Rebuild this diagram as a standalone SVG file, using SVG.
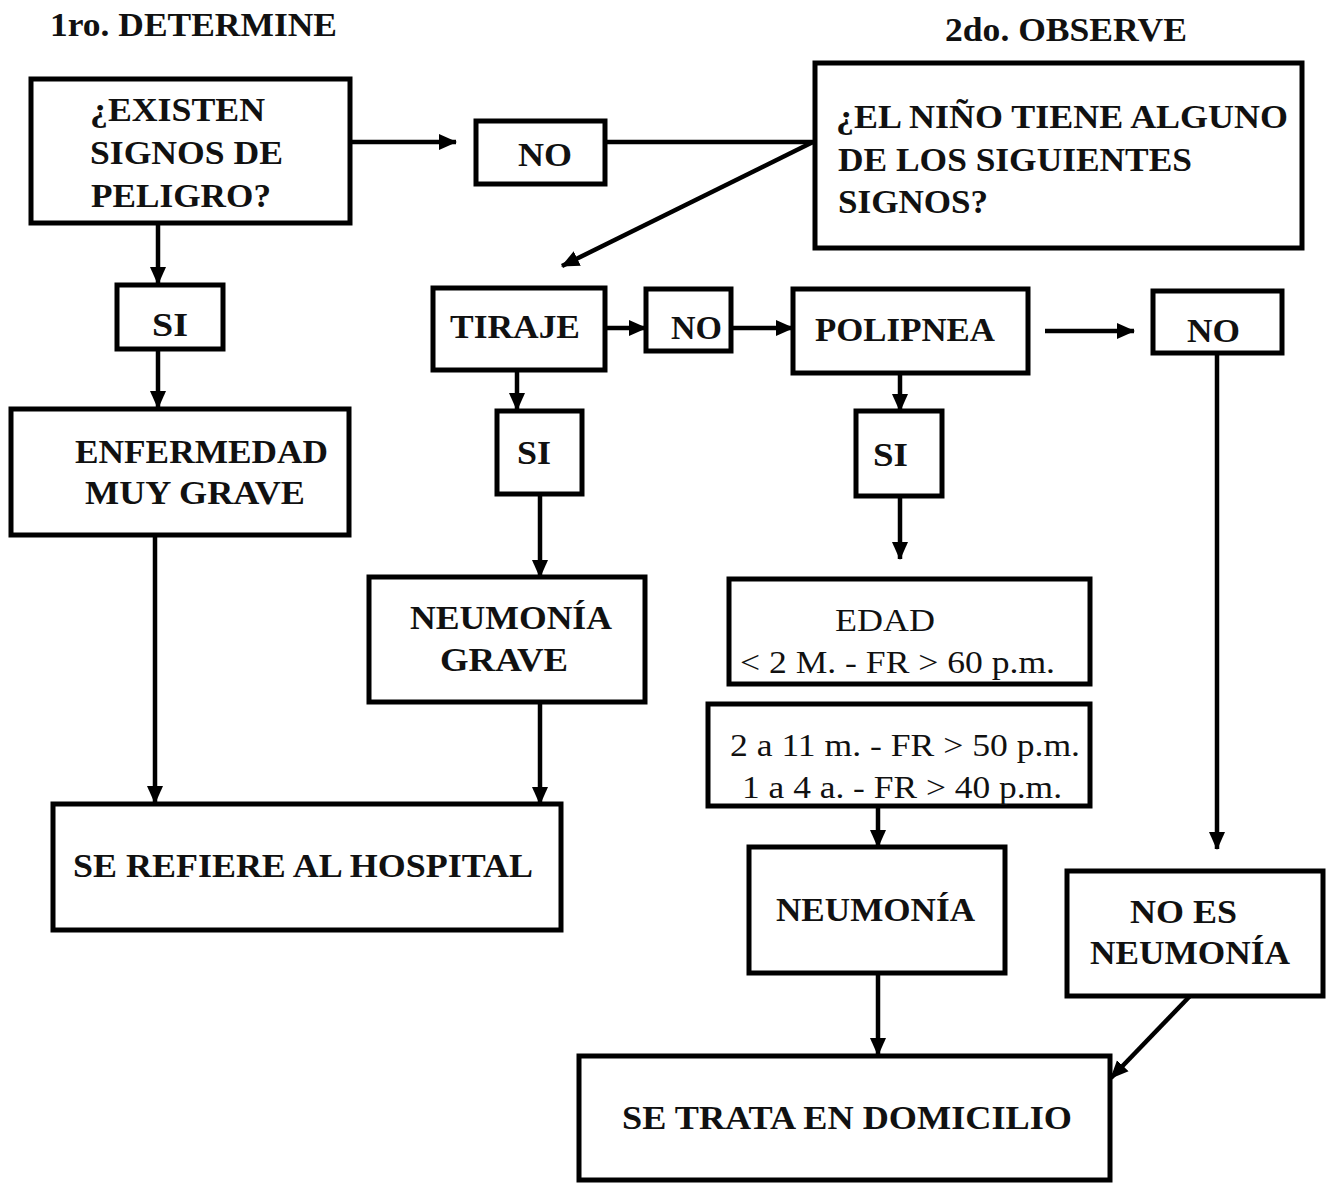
<svg xmlns="http://www.w3.org/2000/svg" width="1328" height="1185" viewBox="0 0 1328 1185">
<style>
.box{fill:#fff;stroke:#000;stroke-width:5}
.t{font-family:"Liberation Serif","Times New Roman",serif;font-weight:bold;font-size:34px;fill:#111}
.n{font-family:"Liberation Serif","Times New Roman",serif;font-weight:normal;font-size:32px;fill:#111}
.c{stroke:#000;stroke-width:4.5;fill:none}
</style>
<defs>
<marker id="ah" markerUnits="userSpaceOnUse" markerWidth="20" markerHeight="18" refX="17" refY="9" orient="auto">
<path d="M0,1 L18,9 L0,17 Z" fill="#000"/>
</marker>
</defs>
<rect width="1328" height="1185" fill="#fff"/>
<text class="t" x="50" y="36" font-size="32" textLength="287" lengthAdjust="spacingAndGlyphs">1ro. DETERMINE</text>
<text class="t" x="945" y="41" font-size="32" textLength="242" lengthAdjust="spacingAndGlyphs">2do. OBSERVE</text>

<g id="connectors">
<line class="c" x1="352" y1="142" x2="456" y2="142" marker-end="url(#ah)"/>
<line class="c" x1="605" y1="142" x2="813" y2="142"/>
<line class="c" x1="813" y1="142" x2="562" y2="266" marker-end="url(#ah)"/>
<line class="c" x1="158" y1="223" x2="158" y2="284" marker-end="url(#ah)"/>
<line class="c" x1="158" y1="349" x2="158" y2="408" marker-end="url(#ah)"/>
<line class="c" x1="155" y1="535" x2="155" y2="803" marker-end="url(#ah)"/>
<line class="c" x1="605" y1="328" x2="646" y2="328" marker-end="url(#ah)"/>
<line class="c" x1="731" y1="328" x2="793" y2="328" marker-end="url(#ah)"/>
<line class="c" x1="1045" y1="331" x2="1134" y2="331" marker-end="url(#ah)"/>
<line class="c" x1="1217" y1="353" x2="1217" y2="849" marker-end="url(#ah)"/>
<line class="c" x1="517" y1="370" x2="517" y2="410" marker-end="url(#ah)"/>
<line class="c" x1="540" y1="494" x2="540" y2="577" marker-end="url(#ah)"/>
<line class="c" x1="540" y1="702" x2="540" y2="804" marker-end="url(#ah)"/>
<line class="c" x1="900" y1="373" x2="900" y2="411" marker-end="url(#ah)"/>
<line class="c" x1="900" y1="496" x2="900" y2="559" marker-end="url(#ah)"/>
<line class="c" x1="878" y1="806" x2="878" y2="847" marker-end="url(#ah)"/>
<line class="c" x1="878" y1="973" x2="878" y2="1055" marker-end="url(#ah)"/>
<line class="c" x1="1190" y1="996" x2="1111" y2="1078" marker-end="url(#ah)"/>
</g>

<g id="n-peligro">
<rect class="box" x="31" y="79" width="319" height="144"/>
<text class="t" x="90" y="121" textLength="175" lengthAdjust="spacingAndGlyphs">¿EXISTEN</text>
<text class="t" x="90" y="164" textLength="193" lengthAdjust="spacingAndGlyphs">SIGNOS DE</text>
<text class="t" x="91" y="207" textLength="180" lengthAdjust="spacingAndGlyphs">PELIGRO?</text>
</g>
<g id="n-no1">
<rect class="box" x="476" y="121" width="129" height="63"/>
<text class="t" x="518" y="166" textLength="54" lengthAdjust="spacingAndGlyphs">NO</text>
</g>
<g id="n-observe">
<rect class="box" x="815" y="63" width="487" height="185"/>
<text class="t" x="836" y="128" textLength="452" lengthAdjust="spacingAndGlyphs">¿EL NIÑO TIENE ALGUNO</text>
<text class="t" x="838" y="171" textLength="354" lengthAdjust="spacingAndGlyphs">DE LOS SIGUIENTES</text>
<text class="t" x="838" y="213" textLength="150" lengthAdjust="spacingAndGlyphs">SIGNOS?</text>
</g>
<g id="n-si1">
<rect class="box" x="117" y="285" width="106" height="64"/>
<text class="t" x="152" y="336" textLength="36" lengthAdjust="spacingAndGlyphs">SI</text>
</g>
<g id="n-enfermedad">
<rect class="box" x="11" y="409" width="338" height="126"/>
<text class="t" x="75" y="463" textLength="253" lengthAdjust="spacingAndGlyphs">ENFERMEDAD</text>
<text class="t" x="85" y="504" textLength="220" lengthAdjust="spacingAndGlyphs">MUY GRAVE</text>
</g>
<g id="n-tiraje">
<rect class="box" x="433" y="288" width="172" height="82"/>
<text class="t" x="450" y="338" textLength="130" lengthAdjust="spacingAndGlyphs">TIRAJE</text>
</g>
<g id="n-no2">
<rect class="box" x="646" y="289" width="85" height="62"/>
<text class="t" x="671" y="339" textLength="51" lengthAdjust="spacingAndGlyphs">NO</text>
</g>
<g id="n-polipnea">
<rect class="box" x="793" y="289" width="235" height="84"/>
<text class="t" x="815" y="341" textLength="180" lengthAdjust="spacingAndGlyphs">POLIPNEA</text>
</g>
<g id="n-no3">
<rect class="box" x="1153" y="291" width="129" height="62"/>
<text class="t" x="1187" y="342" textLength="53" lengthAdjust="spacingAndGlyphs">NO</text>
</g>
<g id="n-si2">
<rect class="box" x="497" y="411" width="85" height="83"/>
<text class="t" x="517" y="464" textLength="34" lengthAdjust="spacingAndGlyphs">SI</text>
</g>
<g id="n-neumonia-grave">
<rect class="box" x="369" y="577" width="276" height="125"/>
<text class="t" x="410" y="629" textLength="202" lengthAdjust="spacingAndGlyphs">NEUMONÍA</text>
<text class="t" x="440" y="671" textLength="128" lengthAdjust="spacingAndGlyphs">GRAVE</text>
</g>
<g id="n-hospital">
<rect class="box" x="53" y="804" width="508" height="126"/>
<text class="t" x="73" y="877" textLength="460" lengthAdjust="spacingAndGlyphs">SE REFIERE AL HOSPITAL</text>
</g>
<g id="n-si3">
<rect class="box" x="856" y="411" width="86" height="85"/>
<text class="t" x="873" y="466" textLength="35" lengthAdjust="spacingAndGlyphs">SI</text>
</g>
<g id="n-edad">
<rect class="box" x="729" y="579" width="361" height="105"/>
<text class="n" x="835" y="631" textLength="100" lengthAdjust="spacingAndGlyphs">EDAD</text>
<text class="n" x="740" y="673" textLength="315" lengthAdjust="spacingAndGlyphs">&lt; 2 M. - FR &gt; 60 p.m.</text>
</g>
<g id="n-rangos">
<rect class="box" x="708" y="704" width="382" height="102"/>
<text class="n" x="730" y="756" textLength="350" lengthAdjust="spacingAndGlyphs">2 a 11 m. - FR &gt; 50 p.m.</text>
<text class="n" x="742" y="798" textLength="320" lengthAdjust="spacingAndGlyphs">1 a 4 a. - FR &gt; 40 p.m.</text>
</g>
<g id="n-neumonia">
<rect class="box" x="749" y="847" width="256" height="126"/>
<text class="t" x="776" y="921" textLength="199" lengthAdjust="spacingAndGlyphs">NEUMONÍA</text>
</g>
<g id="n-no-es">
<rect class="box" x="1067" y="871" width="256" height="125"/>
<text class="t" x="1130" y="923" textLength="107" lengthAdjust="spacingAndGlyphs">NO ES</text>
<text class="t" x="1090" y="964" textLength="200" lengthAdjust="spacingAndGlyphs">NEUMONÍA</text>
</g>
<g id="n-domicilio">
<rect class="box" x="579" y="1056" width="531" height="124"/>
<text class="t" x="622" y="1129" textLength="450" lengthAdjust="spacingAndGlyphs">SE TRATA EN DOMICILIO</text>
</g>
</svg>
